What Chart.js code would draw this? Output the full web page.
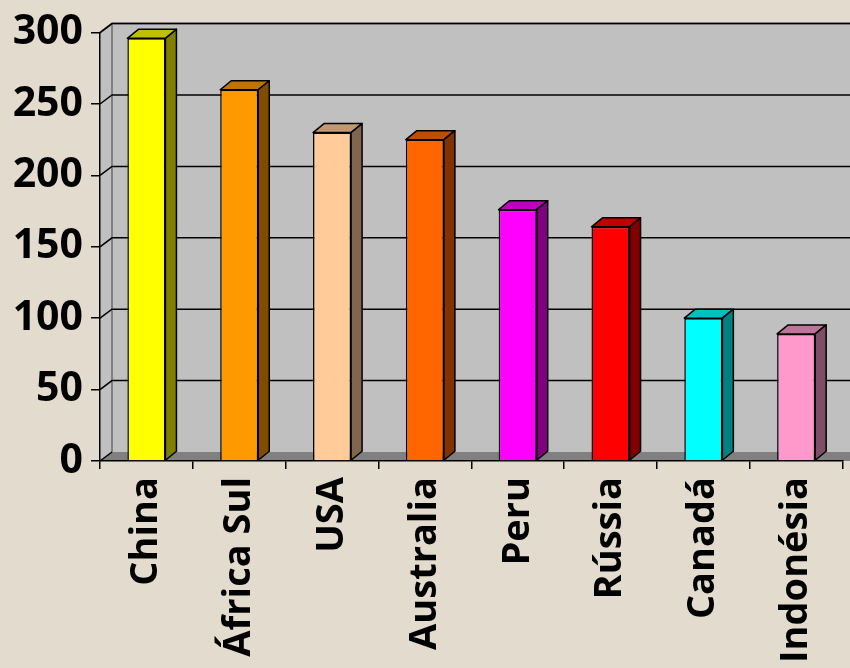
<!DOCTYPE html>
<html><head><meta charset="utf-8">
<script src="https://cdn.jsdelivr.net/npm/chart.js@4.4.0/dist/chart.umd.min.js"></script>
<style>
html,body{margin:0;padding:0;background:#e3dbce;}
#wrap{width:850px;height:668px;position:relative;overflow:hidden;}
</style>
</head><body><div id="wrap"><canvas id="c" width="850" height="668"></canvas></div>
<script>
const categories = ['China','África Sul','USA','Australia','Peru','Rússia','Canadá','Indonésia'];
const values = [296, 260, 230, 225, 176, 164, 100, 89];
const frontColors = ['#ffff00','#ff9900','#ffcc99','#ff6600','#ff00ff','#ff0000','#00ffff','#ff99cc'];
const topColors   = ['#c0c000','#c07300','#c09973','#c04d00','#c000c0','#c00000','#00c0c0','#c07399'];
const sideColors  = ['#808000','#804d00','#80664d','#803300','#800080','#800000','#008080','#804d66'];
const yTicks = [0, 50, 100, 150, 200, 250, 300];

const DX = 12, DY = -9;     // wall depth
const BDX = 11, BDY = -9;   // bar depth

const threeD = {
  id: 'threeD',
  beforeDraw(chart) {
    const {ctx, chartArea: a, scales: {y}} = chart;
    const L = a.left, R = chart.width + 20, B = y.getPixelForValue(0);
    const T = y.getPixelForValue(yTicks[yTicks.length - 1]);
    ctx.save();
    ctx.fillStyle = '#c0c0c0';
    ctx.fillRect(L + DX, T + DY, R - (L + DX), B - T);
    ctx.beginPath();
    ctx.moveTo(L, T); ctx.lineTo(L + DX, T + DY); ctx.lineTo(L + DX, B + DY); ctx.lineTo(L, B); ctx.closePath();
    ctx.fill();
    ctx.fillStyle = '#808080';
    ctx.beginPath();
    ctx.moveTo(L, B); ctx.lineTo(L + DX, B + DY); ctx.lineTo(R, B + DY); ctx.lineTo(R, B); ctx.closePath();
    ctx.fill();
    ctx.strokeStyle = '#808080'; ctx.lineWidth = 2;
    ctx.beginPath();
    ctx.moveTo(L, T); ctx.lineTo(L + DX, T + DY); ctx.lineTo(R, T + DY);
    ctx.moveTo(L + DX, T + DY); ctx.lineTo(L + DX, B + DY);
    ctx.stroke();
    ctx.strokeStyle = '#000'; ctx.lineWidth = 1.5;
    yTicks.forEach(v => {
      const py = y.getPixelForValue(v);
      ctx.beginPath();
      ctx.moveTo(L, py); ctx.lineTo(L + DX, py + DY);
      if (v > 0) ctx.lineTo(R, py + DY);
      ctx.stroke();
    });
    ctx.restore();
  },
  afterDatasetsDraw(chart) {
    const {ctx} = chart;
    const meta = chart.getDatasetMeta(0);
    ctx.save();
    ctx.strokeStyle = '#000'; ctx.lineWidth = 1.5; ctx.lineJoin = 'round';
    meta.data.forEach((bar, i) => {
      const {x, y, base, width} = bar.getProps(['x', 'y', 'base', 'width'], true);
      const l = x - width / 2, r = x + width / 2;
      ctx.fillStyle = topColors[i];
      ctx.beginPath();
      ctx.moveTo(l, y); ctx.lineTo(l + BDX, y + BDY); ctx.lineTo(r + BDX, y + BDY); ctx.lineTo(r, y); ctx.closePath();
      ctx.fill(); ctx.stroke();
      ctx.fillStyle = sideColors[i];
      ctx.beginPath();
      ctx.moveTo(r, y); ctx.lineTo(r + BDX, y + BDY); ctx.lineTo(r + BDX, base + BDY); ctx.lineTo(r, base); ctx.closePath();
      ctx.fill(); ctx.stroke();
    });
    ctx.restore();
  }
};

const xFont = {family: '"Open Sans", "DejaVu Sans", sans-serif', size: 38, weight: 'bold'};
const yFont = {family: '"Open Sans", "DejaVu Sans", sans-serif', size: 41, weight: 'bold'};

new Chart(document.getElementById('c'), {
  type: 'bar',
  data: {
    labels: categories,
    datasets: [{
      data: values,
      backgroundColor: frontColors,
      borderColor: '#000',
      borderWidth: 1.5,
      categoryPercentage: 1,
      barPercentage: 0.41
    }]
  },
  options: {
    responsive: false,
    animation: false,
    layout: {padding: {top: 31, right: 4, left: 0, bottom: 0}},
    plugins: {legend: {display: false}, tooltip: {enabled: false}, title: {display: false}},
    scales: {
      x: {
        grid: {display: true, offset: true, drawOnChartArea: false, drawTicks: true, tickLength: 8, color: '#000', lineWidth: 1.5},
        border: {display: true, color: '#000', width: 1.5},
        ticks: {color: '#000', font: xFont, minRotation: 90, maxRotation: 90, autoSkip: false, padding: 8},
        afterFit(scale) { scale.height = 207; }
      },
      y: {
        min: 0, max: 300,
        afterBuildTicks(scale) { scale.ticks = yTicks.map(v => ({value: v})); },
        grid: {display: true, drawOnChartArea: false, drawTicks: true, tickLength: 9, color: '#000', lineWidth: 1.5},
        border: {display: true, color: '#000', width: 1.5},
        ticks: {color: '#000', font: yFont, padding: 8},
        afterFit(scale) { scale.width = 100; }
      }
    }
  },
  plugins: [threeD]
});
</script>
</body></html>
